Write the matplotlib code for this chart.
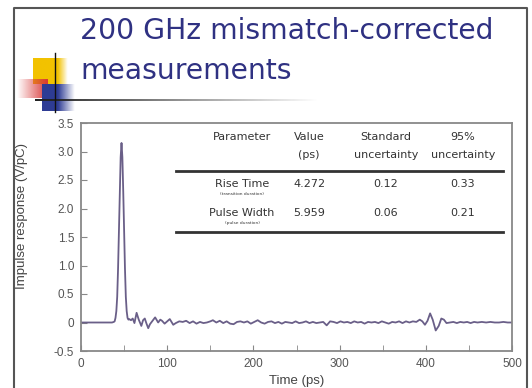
import numpy as np
import matplotlib
matplotlib.use("Agg")
import matplotlib.pyplot as plt

# impulse response trace, time in ps and response in V/pC
time_ps = [0, 10, 20, 30, 36, 38, 39, 40, 41, 42, 43, 44, 45, 46, 47, 48, 49, 50,
           51, 52, 53, 54, 55, 56, 58, 60, 62, 64.5, 67, 70, 72, 74, 76, 78, 80, 83,
           86, 89.5, 92, 94, 97, 100, 103, 107, 110, 114, 118, 122, 126, 130, 134,
           138, 142, 146, 150, 153, 157, 161, 165, 169, 173, 177, 181, 185, 189, 193,
           197, 201, 205, 209, 213, 217, 221, 225, 229, 233, 237, 241, 245, 249, 253,
           257, 261, 265, 269, 273, 277, 281, 285, 289, 293, 297, 301, 305, 309, 313,
           317, 321, 325, 329, 333, 337, 341, 345, 349, 353, 357, 361, 365, 369, 373,
           377, 381, 385, 389, 393, 396, 399, 402, 405, 408, 411.5, 415, 418, 421,
           424, 428, 432, 436, 440, 444, 448, 452, 456, 460, 465, 470, 475, 480, 485,
           490, 495, 500]
response = [0.0, 0.0, 0.0, 0.0, 0.0, 0.01, 0.02, 0.08, 0.2, 0.45, 0.95, 1.6, 2.3, 2.9,
            3.15, 2.9, 2.3, 1.6, 0.95, 0.45, 0.2, 0.08, 0.05, 0.06, 0.04, 0.07,
            -0.01, 0.17, 0.05, -0.06, 0.04, 0.07, -0.02, -0.10, -0.03, 0.03, 0.09, 0.0,
            0.05, 0.03, -0.02, 0.02, 0.06, -0.04, -0.01, 0.02, 0.01, 0.03, -0.01, 0.02,
            -0.02, 0.01, -0.01, 0.0, 0.02, 0.04, 0.0, 0.03, -0.01, 0.02, -0.02, -0.03,
            0.01, 0.02, 0.0, 0.02, -0.02, 0.01, 0.04, 0.0, -0.02, 0.01, 0.02, -0.01,
            0.01, -0.02, 0.01, 0.0, -0.01, 0.02, -0.01, 0.0, 0.02, -0.01, 0.01, -0.01,
            0.0, 0.01, -0.05, 0.02, 0.01, -0.01, 0.02, 0.0, 0.01, -0.01, 0.02, 0.0,
            0.01, -0.02, 0.01, 0.0, 0.01, -0.01, 0.02, 0.0, -0.02, 0.01, 0.0, 0.02,
            -0.01, 0.02, 0.0, 0.02, 0.01, 0.05, 0.02, -0.04, 0.03, 0.16, 0.05, -0.14,
            -0.06, 0.07, 0.05, -0.01, 0.0, 0.01, -0.01, 0.01, 0.0, 0.01, -0.01, 0.01,
            0.0, 0.01, 0.0, 0.01, 0.0, 0.0, 0.01, 0.0, 0.0]

y_ticks = [-0.5, 0, 0.5, 1.0, 1.5, 2.0, 2.5, 3.0, 3.5]
y_tick_labels = ["-0.5", "0", "0.5", "1.0", "1.5", "2.0", "2.5", "3.0", "3.5"]
x_ticks = [0, 100, 200, 300, 400, 500]

# summary table
table_header = [("Parameter", ""), ("Value", "(ps)"), ("Standard", "uncertainty"),
                ("95%", "uncertainty")]
param_names = ["Rise Time", "Pulse Width"]
param_notes = ["(transition duration)", "(pulse duration)"]
param_values = ["4.272", "5.959"]
std_unc = ["0.12", "0.06"]
unc_95 = ["0.33", "0.21"]

W, H = 532, 388
fig = plt.figure(figsize=(W / 100, H / 100), dpi=100)
fig.patch.set_facecolor("white")

# slide decoration layer in pixel coordinates
deco = fig.add_axes([0, 0, 1, 1], zorder=0)
deco.axis("off")

# slide frame
deco.plot([14, 14, 527, 527], [H, 8, 8, H], color="#555555", lw=1.5)


def fade(rgb, a0, a1, n=64):
    img = np.zeros((1, n, 4))
    img[..., :3] = matplotlib.colors.to_rgb(rgb)
    img[..., 3] = np.linspace(a0, a1, n)
    return img


def block(rgb, x0, x1, y0, y1, solid_to):
    n = 64
    img = np.zeros((1, n, 4))
    img[..., :3] = matplotlib.colors.to_rgb(rgb)
    xs = np.linspace(x0, x1, n)
    img[0, :, 3] = np.clip(1 - (xs - solid_to) / (x1 - solid_to), 0, 1)
    deco.imshow(img, extent=(x0, x1, y1, y0), aspect="auto", interpolation="bilinear")


block("#f2c200", 33, 68, 58, 84, 58)
deco.imshow(fade("#d83838", 0.0, 1.0), extent=(17, 48, 98, 79), aspect="auto",
            interpolation="bilinear")
block("#2e3c94", 42, 75, 84, 111, 58)
deco.plot([55, 55], [53, 112], color="#111111", lw=1.0)
deco.imshow(fade("#222222", 1.0, 0.0), extent=(35, 320, 101, 99.5), aspect="auto",
            interpolation="bilinear")
deco.set_xlim(0, W)
deco.set_ylim(H, 0)

fig.text(80 / W, 1 - 39 / H, "200 GHz mismatch-corrected", fontsize=20.3,
         color="#2f3182", family="DejaVu Sans", va="baseline")
fig.text(80 / W, 1 - 79 / H, "measurements", fontsize=20.3,
         color="#2f3182", family="DejaVu Sans", va="baseline")

# plot area
ax = fig.add_axes([81 / W, 37 / H, 431 / W, 228 / H], zorder=1)
ax.plot(time_ps, response, color="#6a5f88", lw=1.3)
ax.set_xlim(0, 500)
ax.set_ylim(-0.5, 3.5)
ax.set_yticks(y_ticks)
ax.set_yticklabels(y_tick_labels)
ax.set_xticks(x_ticks)
ax.set_xticks([50, 150, 250, 350, 450], minor=True)
for s in ax.spines.values():
    s.set_color("#888888")
    s.set_linewidth(1.3)
ax.tick_params(direction="in", length=4, color="#888888", labelsize=8.5,
               labelcolor="#555555", pad=5)
ax.tick_params(which="minor", direction="in", length=4, color="#888888")
for lab in ax.get_xticklabels() + ax.get_yticklabels():
    lab.set_family("Liberation Sans")
ax.set_xlabel("Time (ps)", fontsize=9.5, color="#444444", family="Liberation Sans")
ax.set_ylabel("Impulse response (V/pC)", fontsize=9.5, color="#444444",
              family="Liberation Sans")
ax.yaxis.set_label_coords(-0.123, 0.59)
ax.xaxis.set_label_coords(0.5, -0.105)

# table drawn in figure pixel coordinates
tc = dict(fontsize=8, color="#333333", family="DejaVu Sans", ha="center",
          va="center", zorder=3)
col_x = [242, 309, 386, 463]


def fx(px):
    return px / W


def fy(py):
    return 1 - py / H


for cx, (l1, l2) in zip(col_x, table_header):
    fig.text(fx(cx), fy(137), l1, **tc)
    if l2:
        fig.text(fx(cx), fy(155), l2, **tc)
line_kw = dict(color="#333333", lw=2.0, transform=fig.transFigure, zorder=3)
fig.add_artist(plt.Line2D([fx(176), fx(503)], [fy(171), fy(171)], **line_kw))
fig.add_artist(plt.Line2D([fx(176), fx(503)], [fy(232), fy(232)], **line_kw))

for i, row_y in enumerate([184, 213]):
    fig.text(fx(col_x[0]), fy(row_y), param_names[i], **tc)
    fig.text(fx(col_x[0]), fy(row_y + 10), param_notes[i],
             **{**tc, "fontsize": 3.2})
    fig.text(fx(col_x[1]), fy(row_y), param_values[i], **tc)
    fig.text(fx(col_x[2]), fy(row_y), std_unc[i], **tc)
    fig.text(fx(col_x[3]), fy(row_y), unc_95[i], **tc)

fig.savefig("out.png", dpi=100)
